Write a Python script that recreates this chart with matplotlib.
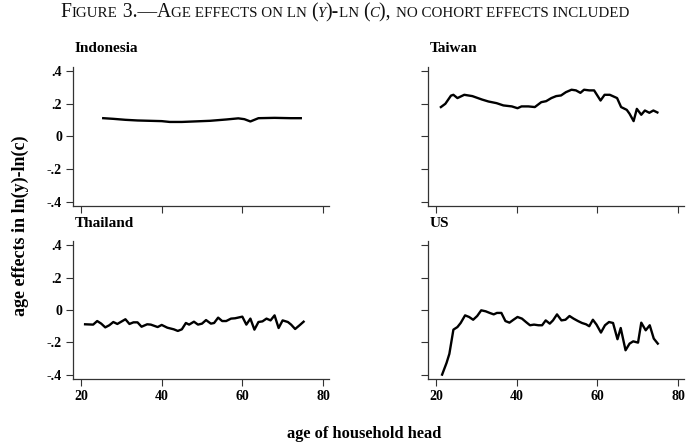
import matplotlib
matplotlib.use("Agg")
import matplotlib.pyplot as plt

plt.rcParams['font.family'] = ['Liberation Serif', 'DejaVu Serif']

# age effects
idn_age = [25.5, 28, 31, 34, 37, 40, 42, 45, 48, 52, 56, 59, 60.5, 62, 64, 68, 72, 74.5]
idn_val = [0.112, 0.108, 0.102, 0.098, 0.096, 0.094, 0.089, 0.089, 0.092, 0.096,
           0.104, 0.111, 0.106, 0.092, 0.112, 0.114, 0.112, 0.112]

twn_age = [21.2, 22.3, 23.7, 24.3, 25.3, 27, 29, 31.4, 33, 35, 36.7, 38.8, 40.2, 41.2,
           42.9, 44.5, 46.1, 47.3, 48.6, 49.8, 51, 52.2, 53.6, 54.7, 55.8, 56.7, 58,
           59.2, 60.8, 61.8, 63.1, 64.9, 65.9, 67.3, 68, 69, 69.8, 70.9, 71.8, 72.9,
           73.9, 74.9]
twn_val = [0.18, 0.20, 0.25, 0.255, 0.235, 0.255, 0.247, 0.226, 0.214, 0.204, 0.19,
           0.184, 0.173, 0.184, 0.184, 0.18, 0.21, 0.216, 0.235, 0.247, 0.251, 0.271,
           0.286, 0.282, 0.267, 0.286, 0.282, 0.282, 0.22, 0.255, 0.255, 0.235, 0.18,
           0.163, 0.139, 0.094, 0.169, 0.133, 0.159, 0.145, 0.159, 0.147]

tha_age = [21, 23, 24, 25, 26, 27, 28, 29, 31, 32, 33, 34, 35, 36.4, 37.3, 39, 40,
           41.4, 43, 44, 45, 46, 46.8, 48, 49, 50, 51, 52.2, 53, 54, 55, 56, 57.2,
           58.2, 60, 61, 62, 63, 64, 65, 66, 67, 68, 69, 70, 71.3, 72.1, 73.1, 74.2,
           75.2]
tha_val = [-0.088, -0.09, -0.068, -0.084, -0.107, -0.094, -0.074, -0.086, -0.057,
           -0.086, -0.076, -0.076, -0.103, -0.088, -0.09, -0.105, -0.092, -0.109,
           -0.119, -0.129, -0.119, -0.08, -0.09, -0.072, -0.09, -0.084, -0.062,
           -0.084, -0.08, -0.047, -0.068, -0.068, -0.053, -0.051, -0.041, -0.09,
           -0.053, -0.121, -0.074, -0.07, -0.053, -0.064, -0.033, -0.111, -0.064,
           -0.074, -0.09, -0.117, -0.094, -0.072]

us_age = [21.5, 22.6, 23.3, 24.3, 25.3, 26.1, 27.2, 28.2, 29.2, 30.2, 31.2, 32.3, 33.3,
          34.3, 35.1, 36.2, 37.2, 38.2, 39.2, 40.2, 41.3, 42.3, 43.3, 44.3, 45.4, 46.3,
          47.2, 48.2, 49, 50, 51.1, 52.1, 53.1, 54.1, 55.2, 56.2, 57.2, 58, 58.9,
          59.8, 60.9, 61.9, 62.9, 63.9, 65, 65.8, 67, 68, 68.9, 70.1, 70.9, 72, 73,
          74, 75]
us_val = [-0.398, -0.326, -0.27, -0.121, -0.105, -0.08, -0.033, -0.043, -0.06, -0.037,
          -0.002, -0.008, -0.018, -0.027, -0.018, -0.018, -0.068, -0.078, -0.06,
          -0.043, -0.053, -0.074, -0.094, -0.09, -0.094, -0.094, -0.064, -0.084,
          -0.064, -0.027, -0.064, -0.06, -0.037, -0.053, -0.068, -0.08, -0.088, -0.1,
          -0.06, -0.09, -0.139, -0.094, -0.074, -0.08, -0.18, -0.111, -0.248, -0.207,
          -0.193, -0.201, -0.078, -0.125, -0.094, -0.176, -0.207]

panels = [("Indonesia", idn_age, idn_val), ("Taiwan", twn_age, twn_val),
          ("Thailand", tha_age, tha_val), ("US", us_age, us_val)]

xticks = [20, 40, 60, 80]
yticks = [-0.4, -0.2, 0, 0.2, 0.4]
ytick_labels = ["-.4", "-.2", "0", ".2", ".4"]

W, H = 692, 444
fig = plt.figure(figsize=(W / 100, H / 100), dpi=100)

# axes boxes in pixels: left, top, width, height
boxes = [(73, 67, 256, 139), (428, 67, 256, 139), (73, 241, 256, 138), (428, 241, 256, 138)]

for i, (name, ages, vals) in enumerate(panels):
    l, t, w, h = boxes[i]
    ax = fig.add_axes([l / W, 1 - (t + h) / H, w / W, h / H])
    ax.plot(ages, vals, color="black", lw=1.7, solid_joinstyle="round")
    ax.set_xlim(18, 81.5)
    ax.set_ylim(-0.425, 0.425)
    for s in ["top", "right"]:
        ax.spines[s].set_visible(False)
    for s in ["left", "bottom"]:
        ax.spines[s].set_color("#333333")
        ax.spines[s].set_linewidth(0.9)
    ax.set_xticks(xticks)
    ax.set_yticks(yticks)
    ax.tick_params(direction="out", length=5, width=0.8, color="#333333",
                   labelsize=10, pad=3)
    if i % 2 == 0:
        ax.set_yticklabels(ytick_labels, fontweight="bold")
    else:
        ax.set_yticklabels([])
    if i >= 2:
        ax.set_xticklabels([str(x) for x in xticks], fontweight="bold")
    else:
        ax.set_xticklabels([])
    fig.text((l + 2) / W, 1 - (t - 18) / H, name, fontsize=11, fontweight="bold",
             ha="left", va="center")

fig.text(20 / W, 1 - 226 / H, "age effects in ln(y)-ln(c)", rotation=90, fontsize=13,
         fontweight="bold", ha="center", va="center")
fig.text(364 / W, 1 - 434 / H, "age of household head", fontsize=11.8,
         fontweight="bold", ha="center", va="center")

# small-caps title built from pieces
big, small = 14.1, 10.8
pieces = [("F", big, "normal"), ("IGURE", small, "normal"), ("\u00a03.\u2014", big, "normal"),
          ("A", big, "normal"), ("GE EFFECTS ON LN\u00a0", small, "normal"),
          ("(", big, "normal"), ("Y", small, "italic"), (")-", big, "normal"),
          ("LN\u00a0", small, "normal"), ("(", big, "normal"), ("C", small, "italic"),
          ("),\u00a0", big, "normal"), ("NO COHORT EFFECTS INCLUDED", small, "normal")]
renderer = fig.canvas.get_renderer()
texts = []
for s, size, style in pieces:
    tx = fig.text(0, 1 - 17 / H, s, fontsize=size, style=style, ha="left",
                  va="baseline", color="#111111")
    texts.append(tx)
widths = [tx.get_window_extent(renderer).width for tx in texts]
total = sum(widths)
x = (345 - total / 2)
for tx, wd in zip(texts, widths):
    tx.set_x(x / W)
    x += wd

fig.savefig("out.png", dpi=100)
